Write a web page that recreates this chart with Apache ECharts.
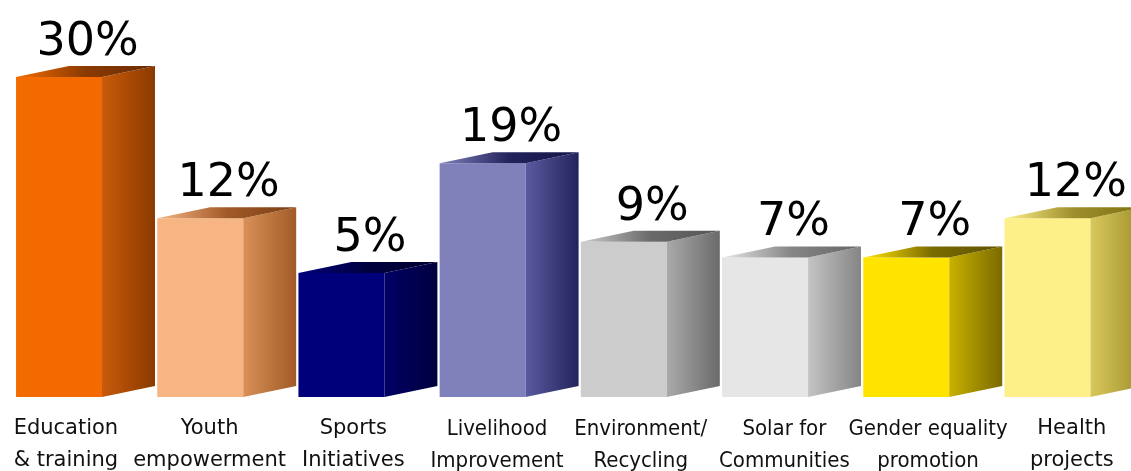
<!DOCTYPE html>
<html>
<head>
<meta charset="utf-8">
<script src="https://cdn.jsdelivr.net/npm/echarts@6/dist/echarts.min.js"></script>
<style>
html,body{margin:0;padding:0;background:#fff;}
#chart{width:1131px;height:471px;}
</style>
</head>
<body>
<div id="chart"></div>
<script>
// ---- data ----
const categories = [
  'Education\n& training',
  'Youth\nempowerment',
  'Sports\nInitiatives',
  'Livelihood\nImprovement',
  'Environment/\nRecycling',
  'Solar for\nCommunities',
  'Gender equality\npromotion',
  'Health\nprojects'
];
const values = [30, 12, 5, 19, 9, 7, 7, 12];
const valueLabels = ['30%', '12%', '5%', '19%', '9%', '7%', '7%', '12%'];

// ---- styling (front, side light, side dark, top dark) ----
const palette = [
  ['#F36B00', '#C95A0A', '#8A3A00', '#6A2C00'],
  ['#F6B583', '#D99158', '#A25A28', '#7A3E14'],
  ['#00007A', '#000066', '#00003E', '#000030'],
  ['#8080BB', '#5A5AA0', '#23235C', '#141448'],
  ['#CCCCCC', '#AAAAAA', '#6A6A6A', '#555555'],
  ['#E6E6E6', '#C4C4C4', '#858585', '#666666'],
  ['#FFE400', '#C9B100', '#7A6A00', '#5E5200'],
  ['#FDF088', '#D9C95C', '#9E8E2C', '#7E7010']
];
const labelFonts = [
  '21px "DejaVu Sans"', '21px "DejaVu Sans"', '21px "DejaVu Sans"', '22px "DejaVu Sans Condensed"',
  '22px "DejaVu Sans Condensed"', '22px "DejaVu Sans Condensed"', '22px "DejaVu Sans Condensed"', '21px "DejaVu Sans"'
];
const Y_MIN = -10.8, Y_MAX = 30;

const chart = echarts.init(document.getElementById('chart'));

function renderBar(params, api) {
  const i = api.value(0);
  const v = api.value(1);
  const top = api.coord([i, v]);
  const base = api.coord([i, Y_MIN]);
  const bw = api.size([1, 0])[0];
  const cx = top[0];
  const xl = cx - bw * 0.492;
  const xr = cx + bw * 0.117;
  const dx = bw * 0.375;
  const dy = -11;
  const yt = top[1];
  const yb = base[1];
  const c = palette[i];
  const lin = (stops) => new echarts.graphic.LinearGradient(0, 0, 1, 0,
    stops.map((col, k) => ({ offset: k / (stops.length - 1), color: col })));
  return {
    type: 'group',
    children: [
      {
        type: 'polygon',
        shape: { points: [[xl, yt], [xr, yt], [xr, yb], [xl, yb]] },
        style: { fill: c[0] }
      },
      {
        type: 'polygon',
        shape: { points: [[xr, yt], [xr + dx, yt + dy], [xr + dx, yb + dy], [xr, yb]] },
        style: { fill: lin([c[1], c[2]]) }
      },
      {
        type: 'polygon',
        shape: { points: [[xl, yt], [xl + dx, yt + dy], [xr + dx, yt + dy], [xr, yt]] },
        style: { fill: lin([c[0], c[2], c[3]]) }
      },
      {
        type: 'text',
        style: {
          text: valueLabels[i],
          x: (xl + xr + dx) / 2 + 2,
          y: yt + dy,
          align: 'center',
          verticalAlign: 'bottom',
          fill: '#000',
          font: '46px "DejaVu Sans", sans-serif'
        }
      }
    ]
  };
}

function renderLabel(params, api) {
  const i = api.value(0);
  const p = api.coord([i, Y_MIN]);
  return {
    type: 'text',
    style: {
      text: categories[i],
      x: p[0],
      y: p[1] + 16,
      align: 'center',
      verticalAlign: 'top',
      fill: '#111',
      font: labelFonts[i] + ', sans-serif',
      lineHeight: 32
    }
  };
}

const option = {
  backgroundColor: '#ffffff',
  animation: false,
  grid: [
    { left: 14.9, right: 0, top: 77, bottom: 74 },
    { left: 0, right: 0, top: 77, bottom: 74 }
  ],
  xAxis: [
    { type: 'value', gridIndex: 0, min: -0.5, max: 7.404, show: false },
    { type: 'value', gridIndex: 1, min: -0.4586, max: 7.412, show: false }
  ],
  yAxis: [
    { type: 'value', gridIndex: 0, min: Y_MIN, max: Y_MAX, show: false },
    { type: 'value', gridIndex: 1, min: Y_MIN, max: Y_MAX, show: false }
  ],
  series: [
    {
      type: 'custom',
      xAxisIndex: 0, yAxisIndex: 0,
      renderItem: renderBar,
      data: values.map((v, i) => [i, v]),
      clip: false
    },
    {
      type: 'custom',
      xAxisIndex: 1, yAxisIndex: 1,
      renderItem: renderLabel,
      data: categories.map((c, i) => [i, Y_MIN]),
      clip: false
    }
  ]
};
chart.setOption(option);
</script>
</body>
</html>
